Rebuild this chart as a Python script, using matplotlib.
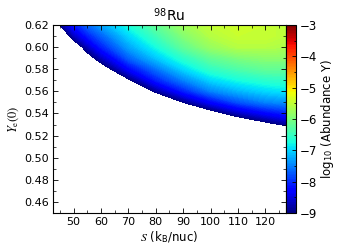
import matplotlib
matplotlib.use("Agg")
import matplotlib.pyplot as plt
import numpy as np
from matplotlib.ticker import MultipleLocator

plt.rcParams["mathtext.fontset"] = "custom"
plt.rcParams["mathtext.rm"] = "STIXGeneral"
plt.rcParams["mathtext.it"] = "STIXGeneral:italic"
plt.rcParams["mathtext.sf"] = "DejaVu Sans"

# entropy nodes (k_B/nuc) and initial electron fraction nodes
entropy = [42.5, 45, 50, 55, 60, 70, 80, 90, 100, 110, 120, 127.5]
ye = [0.45, 0.52, 0.53, 0.54, 0.55, 0.56, 0.57, 0.58, 0.59, 0.60, 0.61, 0.62]

# log10 abundance of 98Ru, one row per Ye node
log_abund = [
    [-20.0, -20.0, -20.0, -20.0, -20.0, -20.0, -20.0, -18.0, -17.0, -16.0, -15.0, -15.0],
    [-20.0, -20.0, -18.0, -16.0, -15.0, -14.0, -13.0, -12.0, -11.3, -10.7, -10.2, -9.9],
    [-20.0, -19.0, -17.0, -15.0, -14.0, -13.0, -12.0, -11.0, -10.3, -9.7, -9.2, -8.9],
    [-19.0, -18.0, -16.0, -14.0, -13.0, -12.0, -11.0, -10.0, -9.3, -8.7, -8.3, -8.1],
    [-18.0, -17.0, -15.0, -13.0, -12.0, -11.0, -9.9, -9.0, -8.3, -7.8, -7.5, -7.4],
    [-17.0, -16.0, -14.0, -12.0, -11.4, -10.0, -8.9, -8.1, -7.5, -7.2, -7.0, -6.9],
    [-16.0, -15.0, -13.0, -11.3, -10.4, -9.1, -8.1, -7.5, -7.0, -6.75, -6.6, -6.55],
    [-15.0, -13.0, -12.0, -10.3, -9.4, -8.3, -7.6, -7.0, -6.55, -6.35, -6.2, -6.2],
    [-14.0, -12.0, -10.6, -9.3, -8.7, -7.7, -7.1, -6.6, -6.2, -6.0, -5.9, -5.9],
    [-13.0, -11.0, -9.5, -8.7, -8.1, -7.3, -6.75, -6.2, -5.8, -5.6, -5.6, -5.65],
    [-12.0, -9.8, -8.7, -8.1, -7.7, -7.0, -6.45, -5.95, -5.6, -5.45, -5.45, -5.55],
    [-11.0, -8.95, -8.15, -7.65, -7.3, -6.7, -6.2, -5.75, -5.5, -5.4, -5.45, -5.55],
]

fig = plt.figure(figsize=(3.57, 2.5), dpi=100)
ax = fig.add_axes([0.1485, 0.148, 0.6525, 0.752])
cax = fig.add_axes([0.8011, 0.148, 0.028, 0.752])

levels = np.linspace(-9, -3, 121)
cs = ax.contourf(entropy, ye, np.array(log_abund), levels=levels, cmap="jet")

ax.set_xlim(42.5, 127.5)
ax.set_ylim(0.45, 0.62)
ax.xaxis.set_major_locator(MultipleLocator(10))
ax.xaxis.set_minor_locator(MultipleLocator(5))
ax.yaxis.set_major_locator(MultipleLocator(0.02))
ax.yaxis.set_minor_locator(MultipleLocator(0.01))
ax.tick_params(which="both", direction="in", top=True, right=True, labelsize=8, pad=3)
ax.tick_params(which="major", length=3.5, width=0.6)
ax.tick_params(which="minor", length=2, width=0.5)
for sp in ax.spines.values():
    sp.set_linewidth(0.8)

ax.set_xlabel(r"$S$ (k$_{\mathsf{B}}$/nuc)", fontsize=8.5, labelpad=1)
ax.set_ylabel(r"$Y_{\rm e}(0)$", fontsize=9, labelpad=2)
ax.set_title(r"$^{\mathsf{98}}$Ru", fontsize=10, pad=3)

cb = fig.colorbar(cs, cax=cax, ticks=[-3, -4, -5, -6, -7, -8, -9])
cb.ax.yaxis.set_minor_locator(MultipleLocator(0.5))
cb.ax.tick_params(which="both", direction="in", labelsize=8.5, width=0.6, pad=3)
cb.ax.tick_params(which="major", length=3)
cb.ax.tick_params(which="minor", length=1.5)
cb.outline.set_linewidth(0.8)
cb.set_label(r"log$_{\mathsf{10}}$ (Abundance Y)", fontsize=8.5, labelpad=1)

fig.savefig("out.png", dpi=100)
